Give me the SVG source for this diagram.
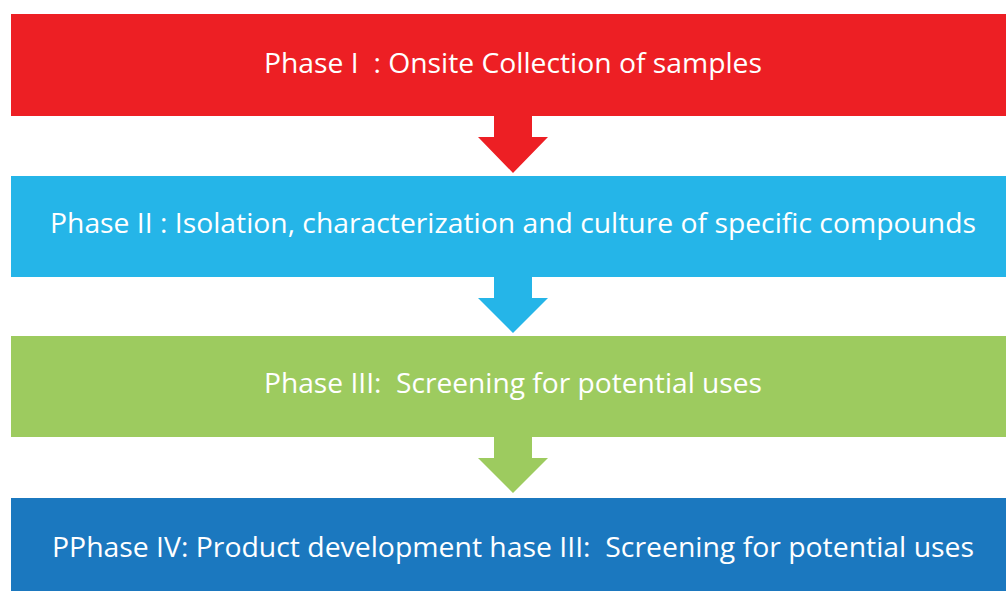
<svg xmlns="http://www.w3.org/2000/svg" width="1006" height="591" viewBox="0 0 1006 591">
  <style>
    .label { font-family: "Open Sans", "Noto Sans", "Liberation Sans", sans-serif; font-size: 27px; font-weight: 400; fill: #ffffff; text-anchor: middle; white-space: pre; font-variant-ligatures: none; }
    .red { fill: #ED1F24; }
    .sky { fill: #25B5E8; }
    .lime { fill: #9DCB5F; }
    .navy { fill: #1B78BF; }
  </style>
  <rect width="1006" height="591" fill="#ffffff"/>

  <g id="connectors">
    <!-- downward block arrows between the phases -->
    <polygon class="red" points="494,115 532,115 532,137 548,137 513,173 478,137 494,137"/>
    <polygon class="sky" points="494,276 532,276 532,298 548,298 513,333 478,298 494,298"/>
    <polygon class="lime" points="494,436 532,436 532,458 548,458 513,493 478,458 494,458"/>
  </g>

  <g id="phase1">
    <rect class="red" x="11" y="14" width="1004" height="102"/>
    <text class="label" x="513" y="73" textLength="498" lengthAdjust="spacingAndGlyphs">Phase I  : Onsite Collection of samples</text>
  </g>

  <g id="phase2">
    <rect class="sky" x="11" y="176" width="1004" height="101"/>
    <text class="label" x="513" y="233" textLength="926" lengthAdjust="spacingAndGlyphs">Phase II : Isolation, characterization and culture of specific compounds</text>
  </g>

  <g id="phase3">
    <rect class="lime" x="11" y="336" width="1004" height="101"/>
    <text class="label" x="513" y="393" textLength="498" lengthAdjust="spacingAndGlyphs">Phase III:  Screening for potential uses</text>
  </g>

  <g id="phase4">
    <rect class="navy" x="11" y="498" width="1004" height="101"/>
    <text class="label" x="513" y="557" textLength="922" lengthAdjust="spacingAndGlyphs">PPhase IV: Product development hase III:  Screening for potential uses</text>
  </g>
</svg>
